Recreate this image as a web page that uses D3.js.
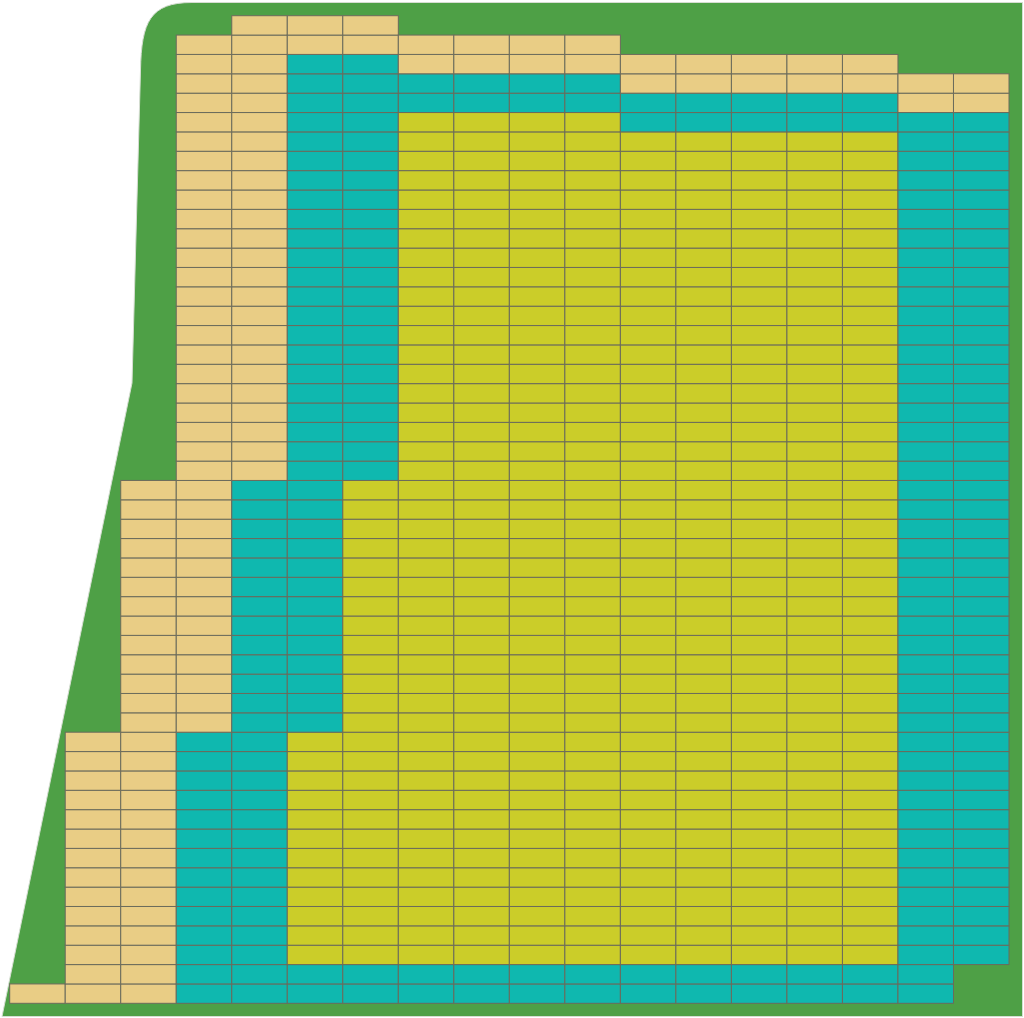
<!DOCTYPE html>
<html>
<head>
<meta charset="utf-8">
<script src="https://cdn.jsdelivr.net/npm/d3@7"></script>
<style>
html,body{margin:0;padding:0;background:#fff;}
svg{display:block;}
</style>
</head>
<body>
<svg id="chart" width="1024" height="1018"></svg>
<script>
// Columns of the grid (left to right)
const columns = ["c1","c2","c3","c4","c5","c6","c7","c8","c9","c10","c11","c12","c13","c14","c15","c16","c17","c18"];
// Empty cells at bottom of each column
const offsetCells = [0,0,0,0,0,0,0,0,0,0,0,0,0,0,0,0,0,2];
// Stacked segments, bottom to top (number of cells)
const tealLower = [0,0,0,14,27,2,2,2,2,2,2,2,2,2,2,2,46,44];
const yellowMid = [0,0,0,0,0,12,25,44,44,44,44,43,43,43,43,43,0,0];
const tealUpper = [0,0,0,0,0,35,22,2,2,2,2,2,2,2,2,2,0,0];
const tanTop    = [1,14,27,36,24,2,2,2,2,2,2,2,2,2,2,2,2,2];
const totalRows = 51;

const segments = [
  {key:"tealLower", values: tealLower, color:"#0fb8af"},
  {key:"yellowMid", values: yellowMid, color:"#cbcd29"},
  {key:"tealUpper", values: tealUpper, color:"#0fb8af"},
  {key:"tanTop",    values: tanTop,    color:"#e9cd85"}
];

const svg = d3.select("#chart");

// background shape
svg.append("path")
  .attr("d","M2,1016.5 L132,383 L140.5,70 C141.5,22 150,2.5 192,2.5 L1022.5,2.5 L1022.5,1016.5 Z")
  .attr("fill","#4ea046")
  .attr("stroke","#d6ddd2")
  .attr("stroke-width",1);

const x = d3.scaleBand().domain(columns).range([9.7, 1009]).padding(0);
const y = d3.scaleLinear().domain([0,totalRows]).range([1003.3, 15.7]);

const cells = [];
columns.forEach((c,i)=>{
  let r = offsetCells[i];
  segments.forEach(s=>{
    for(let k=0;k<s.values[i];k++){
      cells.push({col:c,row:r,color:s.color});
      r++;
    }
  });
});

svg.append("g").selectAll("rect").data(cells).join("rect")
  .attr("x", d=>x(d.col))
  .attr("y", d=>y(d.row+1))
  .attr("width", x.bandwidth())
  .attr("height", d=>y(d.row)-y(d.row+1))
  .attr("fill", d=>d.color)
  .attr("stroke","#6b6b5c")
  .attr("stroke-width",1);
</script>
</body>
</html>
